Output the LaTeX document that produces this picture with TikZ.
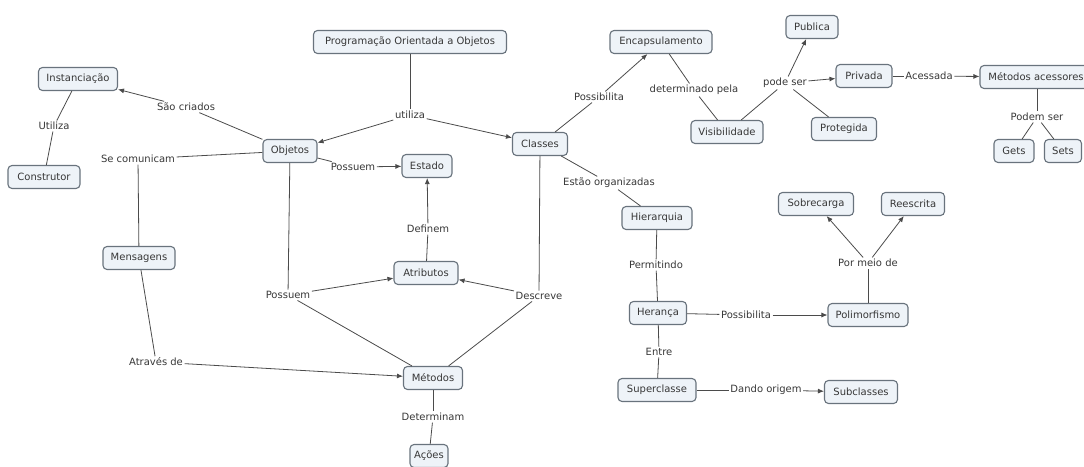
\documentclass[tikz,border=0pt]{standalone}
\usepackage{fontspec}
\setmainfont{DejaVu Sans}
\usetikzlibrary{arrows.meta}
\definecolor{conceptfill}{RGB}{238,243,248}
\definecolor{conceptline}{RGB}{105,115,125}
\definecolor{linkline}{RGB}{75,75,75}
\definecolor{inktext}{RGB}{55,55,55}
\tikzset{
  concept/.style={draw=conceptline, line width=1.1pt, fill=conceptfill,
    rounded corners=4pt, minimum height=23pt, inner xsep=4pt,
    font=\fontsize{10}{11}\selectfont, text=inktext, minimum width=#1},
  concept/.default=0pt,
  phrase/.style={font=\fontsize{10}{11}\selectfont, text=inktext, inner sep=1.5pt},
  link/.style={draw=linkline, line width=0.8pt},
  arrow/.style={link, -{Latex[length=6pt,width=5pt]}},
}
\begin{document}
\begin{tikzpicture}[x=1pt,y=-1pt]
\useasboundingbox (0,0) rectangle (1084,466);
\clip (0,0) rectangle (1084,466);

% concepts
\node[concept=193] (poo)   at (410,42)  {Programação Orientada a Objetos};
\node[concept=79]  (inst)  at (78,79)   {Instanciação};
\node[concept=72]  (cons)  at (44,177)  {Construtor};
\node[concept=54]  (obj)   at (290,151) {Objetos};
\node[concept=50]  (est)   at (427,166) {Estado};
\node[concept=55]  (cls)   at (540,144) {Classes};
\node[concept=102] (enc)   at (661,42)  {Encapsulamento};
\node[concept=72]  (vis)   at (727,132) {Visibilidade};
\node[concept=52]  (pub)   at (812,27)  {Publica};
\node[concept=56]  (priv)  at (864,76)  {Privada};
\node[concept=65]  (prot)  at (844,129) {Protegida};
\node[concept=112] (acc)   at (1036,77) {Métodos acessores};
\node[concept=40]  (gets)  at (1014,151) {Gets};
\node[concept=37]  (sets)  at (1063,151) {Sets};
\node[concept=72]  (msg)   at (139,258) {Mensagens};
\node[concept=64]  (atr)   at (426,273) {Atributos};
\node[concept=59]  (met)   at (433,378) {Métodos};
\node[concept=38]  (acoes) at (429,456) {Ações};
\node[concept=70]  (hier)  at (657,218) {Hierarquia};
\node[concept=57]  (her)   at (658,313) {Herança};
\node[concept=78]  (sup)   at (657,390) {Superclasse};
\node[concept=73]  (sub)   at (861,392) {Subclasses};
\node[concept=80]  (poli)  at (868,315) {Polimorfismo};
\node[concept=75]  (sobre) at (816,204) {Sobrecarga};
\node[concept=63]  (rees)  at (913,204) {Reescrita};

% linking phrases
\node[phrase] (pUtiliza)  at (410,115) {utiliza};
\node[phrase] (pCriados)  at (186,107) {São criados};
\node[phrase] (pUtil2)    at (54,126)  {Utiliza};
\node[phrase] (pComunic)  at (138,159) {Se comunicam};
\node[phrase] (pPossEst)  at (353,167) {Possuem};
\node[phrase] (pDefinem)  at (428,229) {Definem};
\node[phrase] (pPossAtr)  at (288,295) {Possuem};
\node[phrase] (pDescreve) at (539,296) {Descreve};
\node[phrase] (pAtraves)  at (156,362) {Através de};
\node[phrase] (pDeterm)   at (433,417) {Determinam};
\node[phrase] (pPossEnc)  at (599,97)  {Possibilita};
\node[phrase] (pDetPela)  at (694,90)  {determinado pela};
\node[phrase] (pPode)     at (785,83)  {pode ser};
\node[phrase] (pAcess)    at (929,76)  {Acessada};
\node[phrase] (pPodem)    at (1037,117) {Podem ser};
\node[phrase] (pOrg)      at (609,183) {Estão organizadas};
\node[phrase] (pPerm)     at (656,265) {Permitindo};
\node[phrase] (pPossPol)  at (746,315) {Possibilita};
\node[phrase] (pEntre)    at (659,352) {Entre};
\node[phrase] (pOrigem)   at (766,390) {Dando origem};
\node[phrase] (pMeio)     at (868,263) {Por meio de};

% connectors
\draw[link]  (poo) -- (pUtiliza);
\draw[arrow] (pUtiliza) -- (obj);
\draw[arrow] (pUtiliza) -- (cls);

\draw[link]  (obj) -- (pCriados);
\draw[arrow] (pCriados) -- (inst);
\draw[link]  (inst) -- (pUtil2);
\draw[link]  (pUtil2) -- (cons);

\draw[link]  (obj) -- (pComunic);
\draw[link]  (pComunic) -- (msg);
\draw[link]  (msg) -- (pAtraves);
\draw[arrow] (pAtraves) -- (met);

\draw[link]  (obj) -- (pPossEst);
\draw[arrow] (pPossEst) -- (est);

\draw[link]  (atr) -- (pDefinem);
\draw[arrow] (pDefinem) -- (est);

\draw[link]  (obj) -- (pPossAtr);
\draw[arrow] (pPossAtr) -- (atr);
\draw[link]  (pPossAtr) -- (met);

\draw[link]  (cls) -- (pDescreve);
\draw[arrow] (pDescreve) -- (atr);
\draw[link]  (pDescreve) -- (met);

\draw[link]  (met) -- (pDeterm);
\draw[link]  (pDeterm) -- (acoes);

\draw[link]  (cls) -- (pPossEnc);
\draw[arrow] (pPossEnc) -- (enc);
\draw[link]  (enc) -- (pDetPela);
\draw[link]  (pDetPela) -- (vis);
\draw[link]  (vis) -- (pPode);
\draw[arrow] (pPode) -- (pub);
\draw[arrow] (pPode) -- (priv);
\draw[link]  (pPode) -- (prot);
\draw[link]  (priv) -- (pAcess);
\draw[arrow] (pAcess) -- (acc);
\draw[link]  (acc.south -| pPodem) -- (pPodem);
\draw[link]  (pPodem) -- (gets);
\draw[link]  (pPodem) -- (sets);

\draw[link]  (cls) -- (pOrg);
\draw[link]  (pOrg) -- (hier);
\draw[link]  (hier) -- (pPerm);
\draw[link]  (pPerm) -- (her);
\draw[link]  (her) -- (pPossPol);
\draw[arrow] (pPossPol) -- (poli);
\draw[link]  (her) -- (pEntre);
\draw[link]  (pEntre) -- (sup);
\draw[link]  (sup) -- (pOrigem);
\draw[arrow] (pOrigem) -- (sub);
\draw[link]  (poli) -- (pMeio);
\draw[arrow] (pMeio) -- (sobre);
\draw[arrow] (pMeio) -- (rees);
\end{tikzpicture}
\end{document}
